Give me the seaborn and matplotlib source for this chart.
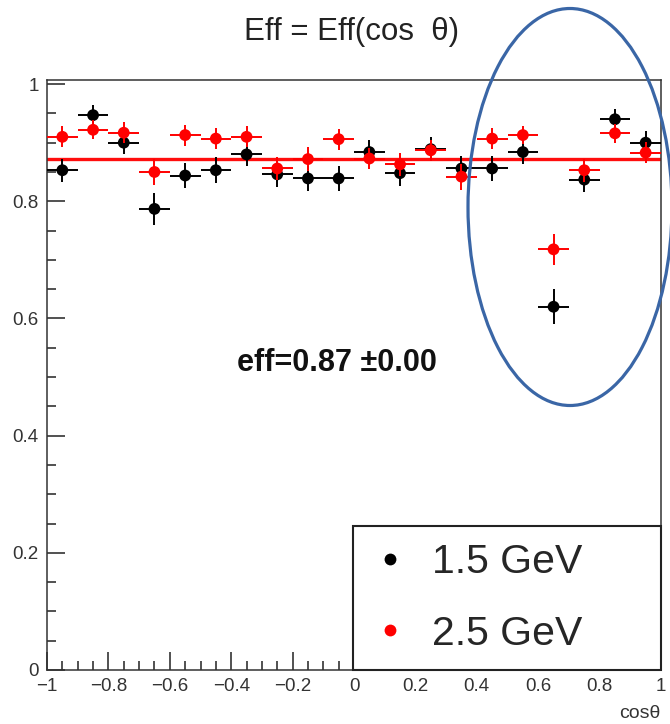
import numpy as np
import pandas as pd
import matplotlib
matplotlib.use("Agg")
import matplotlib.pyplot as plt
import seaborn as sns
from matplotlib.patches import Ellipse
from matplotlib.lines import Line2D
from matplotlib.ticker import MultipleLocator, FuncFormatter

# ---------------- data ----------------
cos_theta = [-0.95, -0.85, -0.75, -0.65, -0.55, -0.45, -0.35, -0.25, -0.15, -0.05,
             0.05, 0.15, 0.25, 0.35, 0.45, 0.55, 0.65, 0.75, 0.85, 0.95]
bin_half_width = [0.05] * 20

eff_15 = [0.853, 0.947, 0.900, 0.787, 0.844, 0.853, 0.880, 0.846, 0.839, 0.839,
          0.884, 0.848, 0.889, 0.856, 0.856, 0.884, 0.620, 0.837, 0.940, 0.900]
err_15 = [0.020, 0.018, 0.020, 0.027, 0.022, 0.022, 0.020, 0.022, 0.022, 0.022,
          0.020, 0.022, 0.020, 0.022, 0.022, 0.020, 0.030, 0.022, 0.018, 0.020]

eff_25 = [0.910, 0.922, 0.917, 0.850, 0.913, 0.907, 0.910, 0.856, 0.872, 0.906,
          0.873, 0.863, 0.887, 0.842, 0.907, 0.913, 0.718, 0.853, 0.916, 0.883]
err_25 = [0.018, 0.016, 0.018, 0.022, 0.018, 0.018, 0.018, 0.020, 0.020, 0.018,
          0.018, 0.020, 0.018, 0.022, 0.018, 0.016, 0.027, 0.020, 0.016, 0.018]

series_labels = ["1.5 GeV", "2.5 GeV"]
series_colors = ["black", "red"]

fit_x = [-1.0, 1.0]
fit_value = 0.872
fit_error = 0.00

x_ticks = [-1, -0.8, -0.6, -0.4, -0.2, 0, 0.2, 0.4, 0.6, 0.8, 1]
y_ticks = [0, 0.2, 0.4, 0.6, 0.8, 1]

title_text = "Eff = Eff(cos  θ)"
x_label = "cosθ"

# ---------------- figure ----------------
sns.set_theme(style="ticks")
plt.rcParams["font.family"] = ["Liberation Sans", "DejaVu Sans"]
plt.rcParams["axes.unicode_minus"] = True

W, H = 670, 724
fig = plt.figure(figsize=(W / 100, H / 100), dpi=100)
fig.patch.set_facecolor("white")
ax = fig.add_axes([47 / W, 1 - 670 / H, 614 / W, 590 / H])
ax.set_facecolor("white")

frames = []
for lab, xs, ys, es in [(series_labels[0], cos_theta, eff_15, err_15),
                        (series_labels[1], cos_theta, eff_25, err_25)]:
    frames.append(pd.DataFrame({"cos": xs, "eff": ys, "err": es,
                                "xerr": bin_half_width, "energy": lab}))
df = pd.concat(frames, ignore_index=True)
palette = dict(zip(series_labels, series_colors))

z = 3
for lab in series_labels:
    sub = df[df["energy"] == lab]
    ax.errorbar(sub["cos"], sub["eff"], xerr=sub["xerr"], yerr=sub["err"],
                fmt="none", ecolor=palette[lab], elinewidth=1.4, capsize=0, zorder=z)
    sns.scatterplot(data=sub, x="cos", y="eff", color=palette[lab], s=72,
                    edgecolor="none", linewidth=0, legend=False, ax=ax, zorder=z + 1)
    z += 2

# fit line
ax.plot(fit_x, [fit_value] * len(fit_x), color="red", lw=2.4, zorder=2, alpha=0.95)

ax.set_xlim(-1, 1)
ax.set_ylim(0, 1.007)

fmt = FuncFormatter(lambda v, p: ("%g" % round(v, 3)).replace("-", "\u2212"))
ax.set_xticks(x_ticks)
ax.set_yticks(y_ticks)
ax.xaxis.set_major_formatter(fmt)
ax.yaxis.set_major_formatter(fmt)
ax.xaxis.set_minor_locator(MultipleLocator(0.05))
ax.yaxis.set_minor_locator(MultipleLocator(0.05))
ax.tick_params(axis="both", which="major", direction="in", length=13, width=1.1,
               color="#222222", labelsize=13.5, labelcolor="#333333",
               top=False, right=False)
ax.tick_params(axis="both", which="minor", direction="in", length=6.5, width=1.1,
               color="#222222", top=False, right=False)
ax.tick_params(axis="y", which="major", pad=6)
ax.tick_params(axis="x", which="major", pad=6)
for sp in ax.spines.values():
    sp.set_visible(True)
    sp.set_linewidth(1.1)
    sp.set_color("#333333")
ax.set_xlabel("")
ax.set_ylabel("")
ax.grid(False)

# x label at right end
fig.text(660 / W, 1 - 713 / H, x_label, ha="right", va="center", fontsize=14,
         color="#333333")

# title
fig.text(352 / W, 1 - 32 / H, title_text, ha="center", va="center", fontsize=22.5,
         color="#222222")

# fit result text
ax.text((237 - 47) / 614, (670 - 363) / 590,
        "eff=%.2f \u00b1%.2f" % (fit_value, fit_error),
        transform=ax.transAxes, ha="left", va="center", fontsize=22,
        fontweight="bold", color="#111111")

# legend
handles = [Line2D([], [], ls="none", marker="o", color=c, markersize=8.5,
                  markeredgewidth=0) for c in series_colors]
leg = ax.legend(handles, series_labels, loc="lower left",
                bbox_to_anchor=(0.498, 0.0, 0.502, 0.249), mode="expand",
                borderaxespad=0, fontsize=29.5, frameon=True, fancybox=False,
                framealpha=1, edgecolor="#222222", borderpad=0.42,
                labelspacing=0.82, handlelength=1.0, handletextpad=0.52)
leg.get_frame().set_linewidth(1.5)
leg.set_zorder(10)

# highlight ellipse (annotation)
ell = Ellipse((570 / W, 1 - 207 / H), 204 / W, 397 / H, transform=fig.transFigure,
              fill=False, edgecolor="#3A66A6", linewidth=2.3, zorder=20,
              clip_on=False)
fig.add_artist(ell)

fig.savefig("out.png", dpi=100, facecolor="white")
